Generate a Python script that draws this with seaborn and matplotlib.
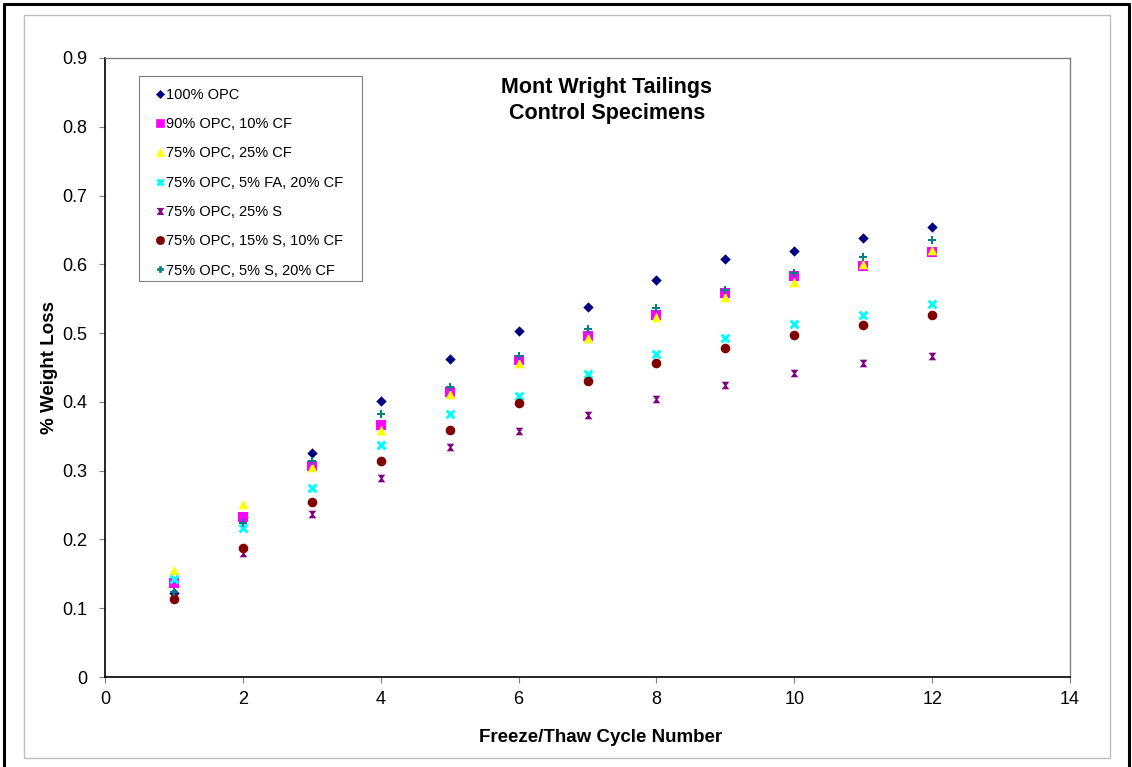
import matplotlib
matplotlib.use("Agg")
import matplotlib.pyplot as plt
import matplotlib.ticker as mticker
from matplotlib.lines import Line2D
from matplotlib.patches import Rectangle
from matplotlib.path import Path
import numpy as np
import pandas as pd
import seaborn as sns

# Freeze/thaw cycle numbers
cycles = [1, 2, 3, 4, 5, 6, 7, 8, 9, 10, 11, 12]

# Cumulative % weight loss per mix
opc100 = [0.122, 0.232, 0.326, 0.402, 0.463, 0.503, 0.538, 0.577, 0.608, 0.619, 0.638, 0.654]
opc90_cf10 = [0.136, 0.233, 0.307, 0.366, 0.415, 0.461, 0.496, 0.527, 0.559, 0.583, 0.597, 0.618]
opc75_cf25 = [0.156, 0.251, 0.305, 0.359, 0.411, 0.457, 0.493, 0.523, 0.552, 0.575, 0.600, 0.621]
opc75_fa5_cf20 = [0.142, 0.217, 0.275, 0.337, 0.382, 0.409, 0.440, 0.470, 0.493, 0.513, 0.527, 0.542]
opc75_s25 = [0.116, 0.181, 0.237, 0.290, 0.335, 0.357, 0.381, 0.404, 0.424, 0.442, 0.456, 0.467]
opc75_s15_cf10 = [0.113, 0.188, 0.255, 0.314, 0.359, 0.399, 0.430, 0.456, 0.479, 0.497, 0.512, 0.526]
opc75_s5_cf20 = [0.124, 0.224, 0.314, 0.382, 0.422, 0.467, 0.506, 0.537, 0.562, 0.587, 0.611, 0.636]

series_names = [
    "100% OPC",
    "90% OPC, 10% CF",
    "75% OPC, 25% CF",
    "75% OPC, 5% FA, 20% CF",
    "75% OPC, 25% S",
    "75% OPC, 15% S, 10% CF",
    "75% OPC, 5% S, 20% CF",
]
series_values = [opc100, opc90_cf10, opc75_cf25, opc75_fa5_cf20,
                 opc75_s25, opc75_s15_cf10, opc75_s5_cf20]

# hourglass-shaped marker for the slag series
hourglass = Path([(-1, 1), (1, 1), (0.25, 0), (1, -1), (-1, -1), (-0.25, 0), (-1, 1)],
                 [Path.MOVETO, Path.LINETO, Path.LINETO, Path.LINETO,
                  Path.LINETO, Path.LINETO, Path.CLOSEPOLY])

styles = [
    dict(color="#000080", marker="D", s=28, linewidth=0),
    dict(color="#FF00FF", marker="s", s=42, linewidth=0),
    dict(color="#FFFF00", marker="^", s=48, linewidth=0),
    dict(color="#00FFFF", marker="x", s=32, linewidth=2.2),
    dict(color="#800080", marker=hourglass, s=30, linewidth=0),
    dict(color="#800000", marker="o", s=48, linewidth=0),
    dict(color="#008080", marker="P", s=34, linewidth=0),
]

df = pd.DataFrame({
    "cycle": np.tile(cycles, len(series_names)),
    "loss": np.concatenate(series_values),
    "mix": np.repeat(series_names, len(cycles)),
})

sns.set_theme(style="white")
plt.rcParams["font.family"] = ["Liberation Sans", "DejaVu Sans"]
plt.rcParams["text.color"] = "black"
plt.rcParams["axes.labelcolor"] = "black"

fig = plt.figure(figsize=(11.32, 7.67), dpi=100)
ax = fig.add_axes([0.0928, 0.1173, 0.8525, 0.8071])

handles = []
for name, st in zip(series_names, styles):
    sub = df[df["mix"] == name]
    sns.scatterplot(data=sub, x="cycle", y="loss", ax=ax, color=st["color"],
                    marker=st["marker"], s=st["s"], linewidth=st["linewidth"],
                    edgecolor=st["color"] if st["marker"] != "x" else None,
                    legend=False, zorder=3)
    handles.append(Line2D([], [], linestyle="none", marker=st["marker"],
                          color=st["color"], markersize=np.sqrt(st["s"]) * 0.85,
                          markeredgewidth=st["linewidth"] if st["marker"] == "x" else 0.5))

ax.set_xlim(0, 14)
ax.set_ylim(0, 0.9)
ax.xaxis.set_major_locator(mticker.MultipleLocator(2))
ax.yaxis.set_major_locator(mticker.MultipleLocator(0.1))
ax.yaxis.set_major_formatter(mticker.FuncFormatter(lambda v, p: f"{v:.1f}".rstrip("0").rstrip(".") if v else "0"))
ax.tick_params(axis="both", direction="out", length=4, width=0.8, color="#808080",
               labelsize=13, labelcolor="black", bottom=True, left=True)
ax.tick_params(axis="x", pad=6)
ax.tick_params(axis="y", pad=9)

for side in ("left", "bottom"):
    ax.spines[side].set_color("black")
    ax.spines[side].set_linewidth(1.2)
for side in ("top", "right"):
    ax.spines[side].set_color("#808080")
    ax.spines[side].set_linewidth(1.0)

ax.set_xlabel("Freeze/Thaw Cycle Number", fontsize=13.5, fontweight="bold", labelpad=15, x=0.513)
ax.set_ylabel("% Weight Loss", fontsize=13.5, fontweight="bold", labelpad=3)

ax.text(0.520, 0.953, "Mont Wright Tailings", transform=ax.transAxes,
        ha="center", va="center", fontsize=15.5, fontweight="bold", color="black")
ax.text(0.520, 0.911, "Control Specimens", transform=ax.transAxes,
        ha="center", va="center", fontsize=15.5, fontweight="bold", color="black")

# legend entries without their own frame; the box is drawn separately
leg = ax.legend(handles, series_names, loc="upper left", bbox_to_anchor=(0.0505, 0.952),
                borderaxespad=0, frameon=False, fontsize=10.5,
                handlelength=0.9, handletextpad=-0.05, labelspacing=1.05,
                borderpad=0.0)
ax.add_patch(Rectangle((0.0352, 0.6397), 0.2311, 0.3312, transform=ax.transAxes,
                       fill=False, edgecolor="#808080", linewidth=0.8, zorder=4))

# page frame around the chart
fig.add_artist(Rectangle((0.0212, 0.0117), 0.9594, 0.9687, transform=fig.transFigure,
                         fill=False, edgecolor="#BFBFBF", linewidth=1.0))
for xs, ys in (([0.0035, 0.0035], [0.0, 0.9948]),
               ([0.0035, 0.9973], [0.9948, 0.9948]),
               ([0.9973, 0.9973], [0.0, 0.9948])):
    fig.add_artist(Line2D(xs, ys, transform=fig.transFigure, color="black", linewidth=2.2))

fig.savefig("out.png", dpi=100, facecolor="white")
